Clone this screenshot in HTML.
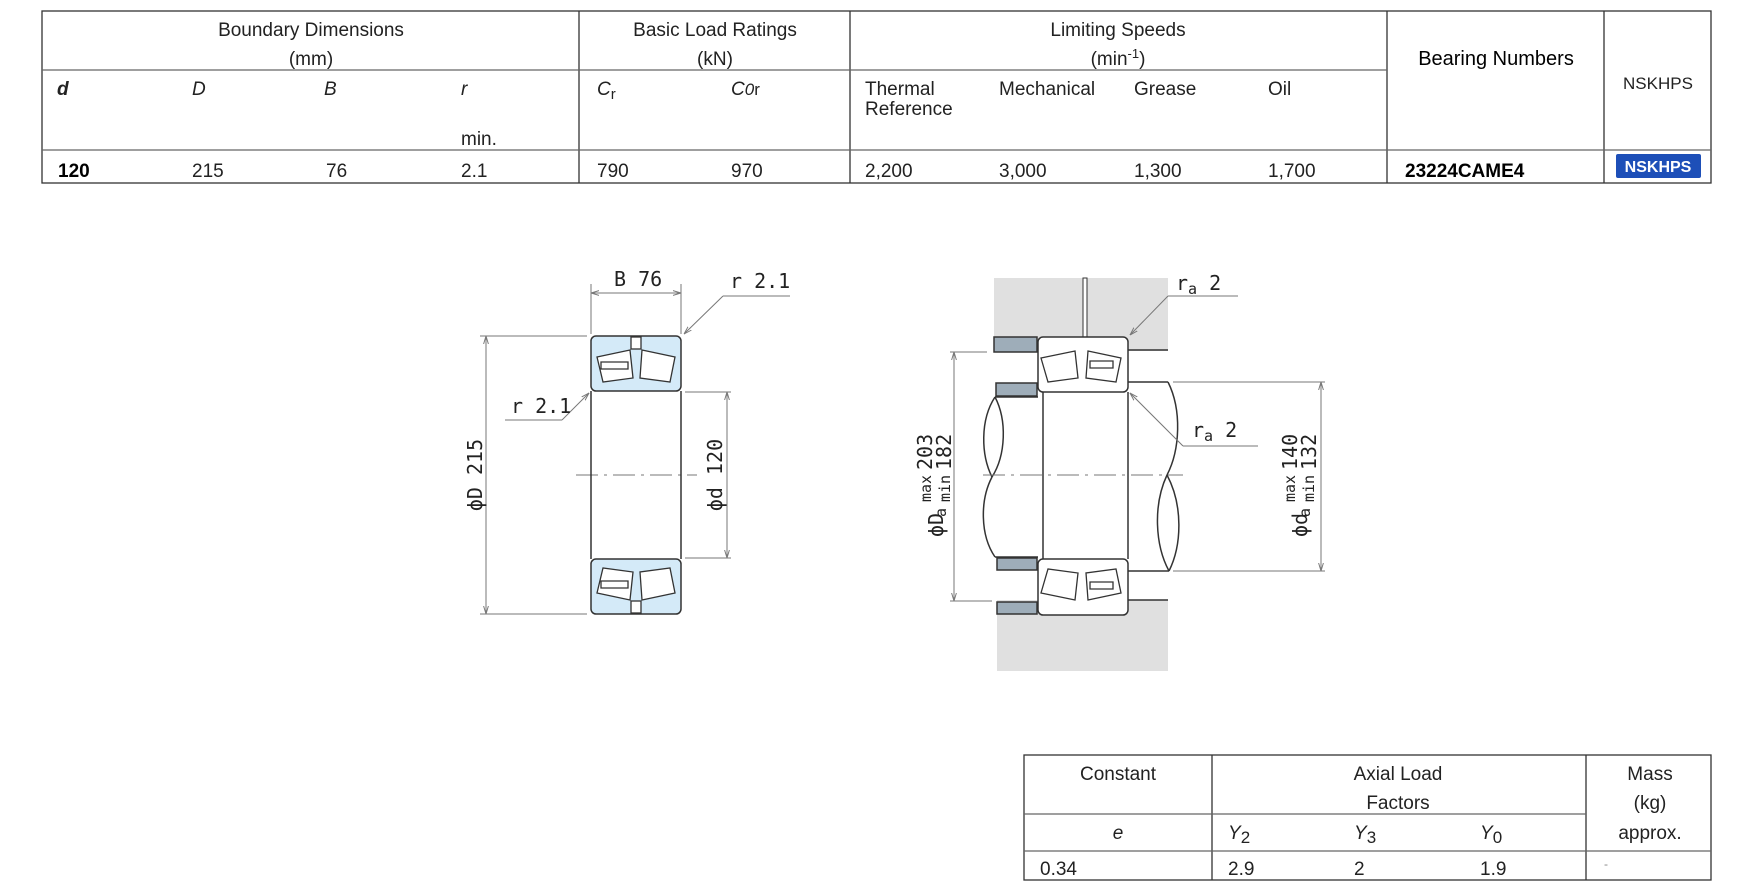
<!DOCTYPE html>
<html><head><meta charset="utf-8"><style>
html,body{margin:0;padding:0;background:#fff;}
svg{display:block;font-family:"Liberation Sans",sans-serif;}
</style></head><body>
<svg width="1754" height="888" viewBox="0 0 1754 888" xmlns="http://www.w3.org/2000/svg">
<defs>
<marker id="ar" viewBox="0 0 10 10" refX="10" refY="5" markerWidth="8" markerHeight="8" orient="auto-start-reverse"><path d="M0,2 L10,5 L0,8" fill="none" stroke="#777" stroke-width="1.2"/></marker>
</defs>
<!-- TOP TABLE -->
<g stroke="#333" stroke-width="1.3" fill="none">
<rect x="42" y="11" width="1669" height="172"/>
<line x1="579" y1="11" x2="579" y2="183"/>
<line x1="850" y1="11" x2="850" y2="183"/>
<line x1="1387" y1="11" x2="1387" y2="183"/>
<line x1="1604" y1="11" x2="1604" y2="183"/>
<line x1="42" y1="70" x2="1387" y2="70" stroke="#666"/>
<line x1="42" y1="150" x2="1711" y2="150" stroke="#666"/>
</g>
<g font-size="19" fill="#222">
<text x="311" y="36" text-anchor="middle">Boundary Dimensions</text>
<text x="311" y="65" text-anchor="middle">(mm)</text>
<text x="715" y="36" text-anchor="middle">Basic Load Ratings</text>
<text x="715" y="65" text-anchor="middle">(kN)</text>
<text x="1118" y="36" text-anchor="middle">Limiting Speeds</text>
<text x="1118" y="65" text-anchor="middle">(min<tspan font-size="13" dy="-7">-1</tspan><tspan dy="7">)</tspan></text>
<text x="1496" y="65" text-anchor="middle" font-size="20" fill="#000">Bearing Numbers</text>
<text x="1658" y="89" text-anchor="middle" font-size="17">NSKHPS</text>
<text x="57" y="95" font-style="italic" font-weight="bold">d</text>
<text x="192" y="95" font-style="italic">D</text>
<text x="324" y="95" font-style="italic">B</text>
<text x="461" y="95" font-style="italic">r</text>
<text x="461" y="145">min.</text>
<text x="597" y="95" font-style="italic">C<tspan font-style="normal" font-size="15" dy="4">r</tspan></text>
<text x="731" y="95" font-style="italic">C<tspan font-size="17">0</tspan><tspan font-style="normal" font-size="17">r</tspan></text>
<text x="865" y="95">Thermal</text>
<text x="865" y="115">Reference</text>
<text x="999" y="95">Mechanical</text>
<text x="1134" y="95">Grease</text>
<text x="1268" y="95">Oil</text>
<text x="58" y="177" font-weight="bold" fill="#000">120</text>
<text x="192" y="177">215</text>
<text x="326" y="177">76</text>
<text x="461" y="177">2.1</text>
<text x="597" y="177">790</text>
<text x="731" y="177">970</text>
<text x="865" y="177">2,200</text>
<text x="999" y="177">3,000</text>
<text x="1134" y="177">1,300</text>
<text x="1268" y="177">1,700</text>
<text x="1405" y="177" font-weight="bold" fill="#000">23224CAME4</text>
</g>
<rect x="1616" y="154" width="85" height="24" rx="2" fill="#1d4fb8"/>
<text x="1658" y="172" text-anchor="middle" font-size="16" font-weight="bold" fill="#fff">NSKHPS</text>

<!-- LEFT DRAWING -->
<g stroke="#777" stroke-width="1" fill="none">
<line x1="591" y1="284" x2="591" y2="334"/>
<line x1="681" y1="284" x2="681" y2="334"/>
<line x1="591" y1="293" x2="681" y2="293" marker-start="url(#ar)" marker-end="url(#ar)"/>
<line x1="723" y1="296" x2="790" y2="296"/>
<line x1="723" y1="296" x2="684" y2="334" marker-end="url(#ar)"/>
<line x1="505" y1="420" x2="562" y2="420"/>
<line x1="562" y1="420" x2="589" y2="393" marker-end="url(#ar)"/>
<line x1="480" y1="336" x2="587" y2="336"/>
<line x1="480" y1="614" x2="587" y2="614"/>
<line x1="486" y1="336" x2="486" y2="614" marker-start="url(#ar)" marker-end="url(#ar)"/>
<line x1="685" y1="392" x2="731" y2="392"/>
<line x1="685" y1="558" x2="731" y2="558"/>
<line x1="727" y1="392" x2="727" y2="558" marker-start="url(#ar)" marker-end="url(#ar)"/>
<line x1="576" y1="475" x2="697" y2="475" stroke-dasharray="22,6,3,6"/>
</g>
<g font-family="'DejaVu Sans Mono','Liberation Mono',monospace" font-size="20" fill="#222">
<text x="614" y="286">B 76</text>
<text x="730" y="288">r 2.1</text>
<text x="511" y="413">r 2.1</text>
<text transform="translate(482,475) rotate(-90)" text-anchor="middle">ϕD 215</text>
<text transform="translate(722,475) rotate(-90)" text-anchor="middle">ϕd 120</text>
</g>
<g stroke="#333" stroke-width="1.5">
<rect x="591" y="336" width="90" height="55" rx="5" fill="#d4eaf8"/>
<rect x="591" y="559" width="90" height="55" rx="5" fill="#d4eaf8"/>
<line x1="591" y1="391" x2="591" y2="559"/>
<line x1="681" y1="391" x2="681" y2="559"/>
<g fill="#fff" stroke-width="1.3">
<rect x="631" y="337" width="10" height="12"/>
<path d="M597,357 L630,350 L633,378 L603,382 Z"/>
<path d="M642,350 L675,357 L670,382 L640,378 Z"/>
<path d="M601,362 L628,362 L628,369 L601,369 Z"/>
<rect x="631" y="601" width="10" height="12"/>
<path d="M597,593 L630,600 L633,572 L603,568 Z"/>
<path d="M642,600 L675,593 L670,568 L640,572 Z"/>
<path d="M601,588 L628,588 L628,581 L601,581 Z"/>
</g>
</g>

<!-- RIGHT DRAWING -->
<g fill="#e0e0e0">
<rect x="994" y="278" width="174" height="73"/>
<rect x="997" y="600" width="171" height="71"/>
</g>
<g stroke="#333" stroke-width="1.5">
<line x1="1128" y1="350" x2="1168" y2="350"/>
<line x1="1128" y1="600" x2="1168" y2="600"/>
<rect x="1083" y="278" width="4" height="60" fill="#fff" stroke-width="1"/>
<g fill="#9eadb9">
<rect x="994" y="337" width="43" height="15"/>
<rect x="996" y="383" width="41" height="13"/>
<rect x="997" y="558" width="40" height="12"/>
<rect x="997" y="602" width="40" height="12"/>
</g>
<rect x="1038" y="337" width="90" height="55" rx="5" fill="#fff"/>
<rect x="1038" y="559" width="90" height="56" rx="5" fill="#fff"/>
<line x1="1043" y1="392" x2="1043" y2="559"/>
<line x1="1128" y1="392" x2="1128" y2="559"/>
<g fill="#fff" stroke-width="1.3">
<path d="M1041,358 L1075,351 L1078,378 L1048,382 Z"/>
<path d="M1088,351 L1121,358 L1116,382 L1086,378 Z"/>
<path d="M1090,361 L1113,361 L1113,368 L1090,368 Z"/>
<path d="M1041,593 L1075,600 L1078,573 L1048,569 Z"/>
<path d="M1088,600 L1121,593 L1116,569 L1086,573 Z"/>
<path d="M1090,589 L1113,589 L1113,582 L1090,582 Z"/>
</g>
<g fill="none">
<line x1="1128" y1="382" x2="1168" y2="382"/>
<line x1="1128" y1="571" x2="1169" y2="571"/>
<path d="M1168,382 C1182,410 1180,450 1167,475"/>
<path d="M1167,475 C1153,505 1155,545 1169,571"/>
<path d="M1167,475 C1183,505 1182,545 1169,571"/>
<line x1="995" y1="397" x2="1038" y2="397"/>
<line x1="995" y1="557" x2="1038" y2="557"/>
<path d="M995,397 C980,420 981,455 992,477"/>
<path d="M995,397 C1007,420 1006,455 992,477"/>
<path d="M992,477 C980,500 980,535 995,557"/>
</g>
</g>
<g stroke="#777" stroke-width="1" fill="none">
<line x1="983" y1="475" x2="1183" y2="475" stroke-dasharray="22,6,3,6"/>
<line x1="1168" y1="296" x2="1238" y2="296"/>
<line x1="1168" y1="296" x2="1130" y2="335" marker-end="url(#ar)"/>
<line x1="1183" y1="446" x2="1258" y2="446"/>
<line x1="1183" y1="446" x2="1130" y2="393" marker-end="url(#ar)"/>
<line x1="950" y1="352" x2="987" y2="352"/>
<line x1="950" y1="601" x2="992" y2="601"/>
<line x1="954" y1="352" x2="954" y2="601" marker-start="url(#ar)" marker-end="url(#ar)"/>
<line x1="1173" y1="382" x2="1325" y2="382"/>
<line x1="1173" y1="571" x2="1325" y2="571"/>
<line x1="1321" y1="382" x2="1321" y2="571" marker-start="url(#ar)" marker-end="url(#ar)"/>
</g>
<g font-family="'DejaVu Sans Mono','Liberation Mono',monospace" fill="#222">
<text x="1176" y="290" font-size="20">r<tspan font-size="15" dy="4">a</tspan><tspan dy="-4"> 2</tspan></text>
<text x="1192" y="437" font-size="20">r<tspan font-size="15" dy="4">a</tspan><tspan dy="-4"> 2</tspan></text>
<g transform="rotate(-90)">
<text x="-537" y="943" font-size="20">ϕD</text>
<text x="-517" y="946" font-size="15">a</text>
<text x="-502" y="931" font-size="15">max</text>
<text x="-502" y="950" font-size="15">min</text>
<text x="-470" y="932" font-size="20">203</text>
<text x="-470" y="951" font-size="20">182</text>
<text x="-537" y="1307" font-size="20">ϕd</text>
<text x="-517" y="1310" font-size="15">a</text>
<text x="-502" y="1295" font-size="15">max</text>
<text x="-502" y="1314" font-size="15">min</text>
<text x="-470" y="1297" font-size="20">140</text>
<text x="-470" y="1316" font-size="20">132</text>
</g>
</g>

<!-- BOTTOM TABLE -->
<g stroke="#333" stroke-width="1.3" fill="none">
<rect x="1024" y="755" width="687" height="125"/>
<line x1="1212" y1="755" x2="1212" y2="880"/>
<line x1="1586" y1="755" x2="1586" y2="880"/>
<line x1="1024" y1="814" x2="1586" y2="814" stroke="#666"/>
<line x1="1024" y1="851" x2="1711" y2="851" stroke="#666"/>
</g>
<g font-size="19" fill="#222">
<text x="1118" y="780" text-anchor="middle">Constant</text>
<text x="1398" y="780" text-anchor="middle">Axial Load</text>
<text x="1398" y="809" text-anchor="middle">Factors</text>
<text x="1650" y="780" text-anchor="middle">Mass</text>
<text x="1650" y="809" text-anchor="middle">(kg)</text>
<text x="1650" y="839" text-anchor="middle">approx.</text>
<text x="1118" y="839" text-anchor="middle" font-style="italic">e</text>
<text x="1228" y="839" font-style="italic">Y<tspan font-style="normal" font-size="17" dy="4">2</tspan></text>
<text x="1354" y="839" font-style="italic">Y<tspan font-style="normal" font-size="17" dy="4">3</tspan></text>
<text x="1480" y="839" font-style="italic">Y<tspan font-style="normal" font-size="17" dy="4">0</tspan></text>
<text x="1040" y="875">0.34</text>
<text x="1228" y="875">2.9</text>
<text x="1354" y="875">2</text>
<text x="1480" y="875">1.9</text>
<text x="1604" y="868" font-size="12" fill="#888">-</text>
</g>
</svg>
</body></html>
